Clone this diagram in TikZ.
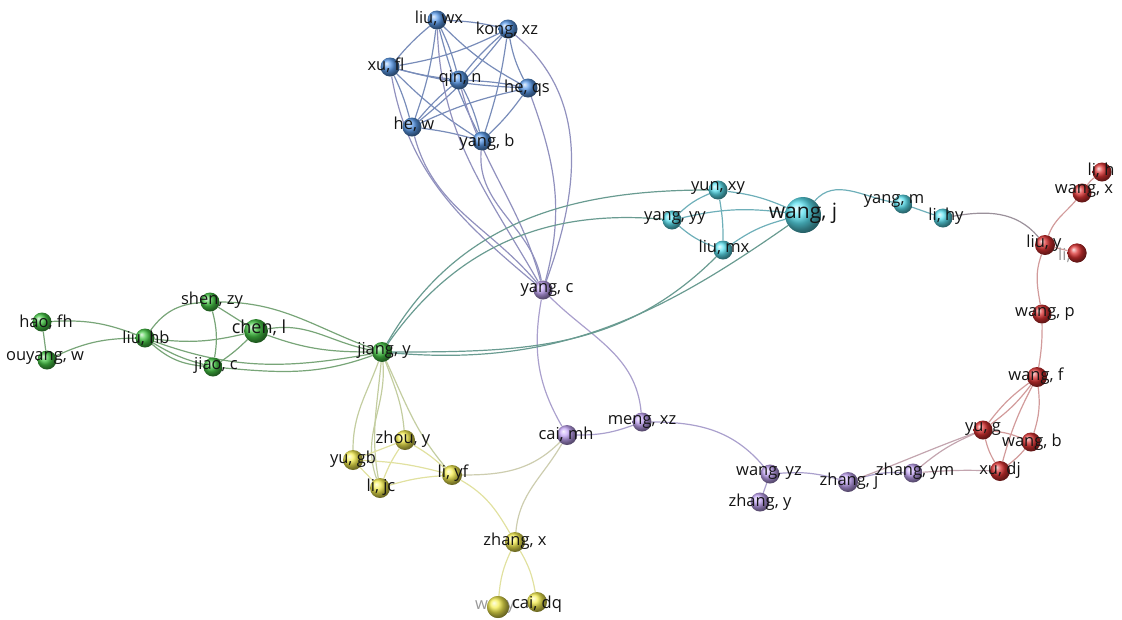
\documentclass[tikz,border=0pt]{standalone}
\usepackage{fontspec}
\setmainfont{Open Sans}
\pgfdeclarelayer{background}
\pgfsetlayers{background,main}
\definecolor{cB}{RGB}{90,155,235}
\definecolor{cC}{RGB}{90,225,240}
\definecolor{cG}{RGB}{70,200,70}
\definecolor{cY}{RGB}{245,238,80}
\definecolor{cP}{RGB}{195,165,245}
\definecolor{cR}{RGB}{220,50,50}
\definecolor{eB}{RGB}{120,140,185}
\definecolor{eBP}{RGB}{145,145,190}
\definecolor{eP}{RGB}{170,160,205}
\definecolor{eG}{RGB}{120,165,120}
\definecolor{eGC}{RGB}{105,155,145}
\definecolor{eGY}{RGB}{195,205,160}
\definecolor{eY}{RGB}{225,225,160}
\definecolor{eYP}{RGB}{205,205,175}
\definecolor{eC}{RGB}{110,175,185}
\definecolor{eR}{RGB}{210,155,155}
\definecolor{eCR}{RGB}{155,145,155}
\definecolor{ePR}{RGB}{195,165,175}
\definecolor{txt}{RGB}{20,20,20}
\begin{document}
\begin{tikzpicture}[x=1pt,y=-1pt,
  ball/.style={circle, inner sep=0pt, minimum size=19pt, shade, shading=ball, ball color=#1},
  lab/.style={inner sep=0pt, text=txt, font=\fontsize{16.5}{17}\selectfont},
  faint/.style={inner sep=0pt, text=black!40, font=\fontsize{16.5}{17}\selectfont},
  ed/.style={draw=#1, line width=1.2pt}]
\useasboundingbox (0,0) rectangle (1122,619);

% ---------- spheres ----------
% blue
\node[ball=cB] (lwx) at (437,20) {};
\node[ball=cB] (kxz) at (508,29) {};
\node[ball=cB] (xfl) at (390,67) {};
\node[ball=cB] (qn) at (459,80) {};
\node[ball=cB] (hqs) at (528,88) {};
\node[ball=cB] (hw) at (412,127) {};
\node[ball=cB] (yb) at (482,141) {};
% cyan
\node[ball=cC] (yxy) at (718,190) {};
\node[ball=cC] (yyy) at (672,220) {};
\node[ball=cC, minimum size=36pt] (wj) at (803,215) {};
\node[ball=cC] (lmx) at (723,250) {};
\node[ball=cC] (ym) at (903,204) {};
\node[ball=cC] (lhy) at (943,218) {};
% red
\node[ball=cR] (lh) at (1102,172) {};
\node[ball=cR] (wx) at (1082,193) {};
\node[ball=cR, minimum size=20pt] (ly) at (1045,245) {};
\node[ball=cR] (lhb) at (1077,253) {};
\node[ball=cR] (wp) at (1042,314) {};
\node[ball=cR, minimum size=20pt] (wf) at (1037,377) {};
\node[ball=cR] (yg) at (983,430) {};
\node[ball=cR] (wb) at (1031,442) {};
\node[ball=cR, minimum size=20pt] (xdj) at (1000,471) {};
% purple
\node[ball=cP] (yc) at (543,290) {};
\node[ball=cP] (mxz) at (642,422) {};
\node[ball=cP, minimum size=20pt] (cmh) at (567,435) {};
\node[ball=cP] (wyz) at (770,474) {};
\node[ball=cP] (zy) at (760,502) {};
\node[ball=cP, minimum size=20pt] (zj) at (848,482) {};
\node[ball=cP] (zym) at (913,473) {};
% green
\node[ball=cG] (hfh) at (42,322) {};
\node[ball=cG] (ouy) at (47,360) {};
\node[ball=cG] (lhbg) at (145,338) {};
\node[ball=cG] (szy) at (210,302) {};
\node[ball=cG, minimum size=24pt] (chl) at (256,331) {};
\node[ball=cG] (jc) at (213,367) {};
\node[ball=cG, minimum size=20pt] (jy) at (382,352) {};
% yellow
\node[ball=cY, minimum size=20pt] (zhy) at (405,440) {};
\node[ball=cY, minimum size=20pt] (ygb) at (353,460) {};
\node[ball=cY, minimum size=20pt] (ljc) at (380,488) {};
\node[ball=cY, minimum size=20pt] (lyf) at (452,475) {};
\node[ball=cY, minimum size=20pt] (zx) at (515,542) {};
\node[ball=cY, minimum size=22pt] (wu) at (498,607) {};
\node[ball=cY, minimum size=20pt] (cdq) at (537,602) {};

% ---------- edges ----------
\begin{pgfonlayer}{background}
% blue cluster
\foreach \a/\b/\bd in {lwx/kxz/5, lwx/xfl/-5, lwx/qn/5, lwx/hqs/-8, lwx/hw/6, lwx/yb/-6,
  kxz/xfl/8, kxz/qn/-5, kxz/hqs/-8, kxz/hw/6, kxz/yb/5,
  xfl/qn/-4, xfl/hqs/-6, xfl/hw/5, xfl/yb/-6,
  qn/hqs/4, qn/hw/-5, qn/yb/6, hqs/hw/-6, hqs/yb/5, hw/yb/4}
  \draw[ed=eB] (\a) to[bend left=\bd] (\b);
% blue -> yang, c
\draw[ed=eBP] (xfl) to[out=-80,in=140] (yc);
\draw[ed=eBP] (hw) to[out=-75,in=130] (yc);
\draw[ed=eBP] (lwx) to[out=-88,in=120] (yc);
\draw[ed=eBP] (qn) to[out=-75,in=105] (yc);
\draw[ed=eBP] (yb) to[out=-95,in=100] (yc);
\draw[ed=eBP] (hqs) to[out=-70,in=75] (yc);
\draw[ed=eBP] (kxz) to[out=-40,in=70] (yc);
% purple
\draw[ed=eP] (yc) to[out=-100,in=120] (cmh);
\draw[ed=eP] (yc) to[out=-45,in=95] (mxz);
\draw[ed=eP] (cmh) to[bend right=10] (mxz);
\draw[ed=eP] (mxz) to[out=0,in=130] (wyz);
\draw[ed=eP] (wyz) -- (zy);
\draw[ed=eP] (wyz) to[bend left=10] (zj);
\draw[ed=eP] (zj) to[bend left=10] (zym);
\draw[ed=ePR] (zym) to[bend left=3] (xdj);
\draw[ed=ePR] (zj) to[out=20,in=200] (yg);
\draw[ed=ePR] (zym) to[bend left=8] (yg);
% cyan
\draw[ed=eC] (yxy) to[bend right=10] (yyy);
\draw[ed=eC] (yxy) to[bend left=5] (lmx);
\draw[ed=eC] (yxy) to[bend left=8] (wj);
\draw[ed=eC] (yyy) to[bend right=10] (lmx);
\draw[ed=eC] (yyy) to[bend left=10] (wj);
\draw[ed=eC] (lmx) to[bend left=10] (wj);
\draw[ed=eC] (wj) to[out=50,in=170] (ym);
\draw[ed=eC] (ym) -- (lhy);
\draw[ed=eCR] (lhy) to[out=10,in=130] (ly);
% red
\draw[ed=eR] (lh) to[bend right=10] (wx);
\draw[ed=eR] (wx) to[out=230,in=70] (ly);
\draw[ed=eR] (ly) -- (lhb);
\draw[ed=eR] (ly) to[out=250,in=100] (wp);
\draw[ed=eR] (wp) to[bend left=5] (wf);
\draw[ed=eR] (wf) to[bend right=8] (yg);
\draw[ed=eR] (wf) to[bend left=8] (yg);
\draw[ed=eR] (wf) to[bend left=12] (wb);
\draw[ed=eR] (wf) to[bend right=6] (xdj);
\draw[ed=eR] (yg) to[bend left=8] (wb);
\draw[ed=eR] (yg) to[bend right=8] (xdj);
\draw[ed=eR] (wb) to[bend left=6] (xdj);
% green
\draw[ed=eG] (hfh) -- (ouy);
\draw[ed=eG] (hfh) to[bend left=12] (lhbg);
\draw[ed=eG] (ouy) to[bend left=12] (lhbg);
\draw[ed=eG] (lhbg) to[bend left=25] (szy);
\draw[ed=eG] (lhbg) to[bend right=8] (jc);
\draw[ed=eG] (lhbg) to[bend right=18] (jc);
\draw[ed=eG] (lhbg) to[bend right=10] (chl);
\draw[ed=eG] (szy) -- (chl);
\draw[ed=eG] (szy) to[bend left=12] (jc);
\draw[ed=eG] (chl) to[bend left=5] (jc);
\draw[ed=eG] (szy) to[out=0,in=160] (jy);
\draw[ed=eG] (chl) to[out=10,in=170] (jy);
\draw[ed=eG] (chl) to[out=-20,in=180] (jy);
\draw[ed=eG] (jc) to[out=-5,in=200] (jy);
\draw[ed=eG] (lhbg) to[out=-20,in=190] (jy);
% green -> cyan
\draw[ed=eGC] (jy) to[out=60,in=180] (yxy);
\draw[ed=eGC] (jy) to[out=55,in=175] (yyy);
\draw[ed=eGC] (jy) to[out=0,in=225] (lmx);
\draw[ed=eGC] (jy) to[out=-5,in=215] (wj);
% green -> yellow
\draw[ed=eGY] (jy) to[out=-110,in=90] (ygb);
\draw[ed=eGY] (jy) to[out=-95,in=100] (ljc);
\draw[ed=eGY] (jy) to[out=-85,in=110] (ljc);
\draw[ed=eGY] (jy) to[out=-70,in=95] (zhy);
\draw[ed=eGY] (jy) to[out=-65,in=130] (lyf);
% yellow
\draw[ed=eY] (zhy) -- (ygb);
\draw[ed=eY] (zhy) to[bend right=6] (ljc);
\draw[ed=eY] (zhy) to[bend left=6] (lyf);
\draw[ed=eY] (ygb) -- (ljc);
\draw[ed=eY] (ygb) to[bend left=6] (lyf);
\draw[ed=eY] (ljc) to[bend left=6] (lyf);
\draw[ed=eYP] (lyf) to[out=0,in=225] (cmh);
\draw[ed=eY] (lyf) to[out=-30,in=120] (zx);
\draw[ed=eYP] (cmh) to[out=240,in=85] (zx);
\draw[ed=eY] (zx) to[bend left=10] (cdq);
\draw[ed=eY] (zx) to[bend right=10] (wu);
\end{pgfonlayer}

% ---------- labels ----------
\node[lab] (lwx-l) at (439,18) {liu, wx};
\node[lab] (kxz-l) at (507,30) {kong, xz};
\node[lab] (xfl-l) at (386,65) {xu, fl};
\node[lab] (qn-l) at (460,78) {qin, n};
\node[lab] (hqs-l) at (527,88) {he, qs};
\node[lab] (hw-l) at (414,124) {he, w};
\node[lab] (yb-l) at (487,142) {yang, b};
\node[lab] (yxy-l) at (718,188) {yun, xy};
\node[lab] (yyy-l) at (675,218) {yang, yy};
\node[lab, font=\fontsize{21}{21}\selectfont] (wj-l) at (803,213) {wang, j};
\node[lab] (lmx-l) at (724,247) {liu, mx};
\node[lab] (ym-l) at (894,201) {yang, m};
\node[lab] (lhy-l) at (946,216) {li, hy};
\node[lab] (lh-l) at (1101,170) {li, h};
\node[lab] (wx-l) at (1084,191) {wang, x};
\node[lab] (ly-l) at (1044,243) {liu, y};
\node[faint, anchor=west] (lhb-l) at (1058,255) {li, h};
\node[ball=cR] at (lhb) {};
\node[lab] (wp-l) at (1045,314) {wang, p};
\node[lab] (wf-l) at (1036,376) {wang, f};
\node[lab] (yg-l) at (983,429) {yu, g};
\node[lab] (wb-l) at (1032,442) {wang, b};
\node[lab] (xdj-l) at (1000,470) {xu, dj};
\node[lab] (yc-l) at (547,290) {yang, c};
\node[lab] (mxz-l) at (642,422) {meng, xz};
\node[lab] (cmh-l) at (566,434) {cai, mh};
\node[lab] (wyz-l) at (769,473) {wang, yz};
\node[lab] (zy-l) at (760,502) {zhang, y};
\node[lab] (zj-l) at (849,481) {zhang, j};
\node[lab] (zym-l) at (915,471) {zhang, ym};
\node[lab] (hfh-l) at (46,322) {hao, fh};
\node[lab] (ouy-l) at (45,358) {ouyang, w};
\node[lab] (lhbg-l) at (146,338) {liu, hb};
\node[lab] (szy-l) at (212,300) {shen, zy};
\node[lab, font=\fontsize{18}{18}\selectfont] (chl-l) at (259,328) {chen, l};
\node[lab] (jc-l) at (216,365) {jiao, c};
\node[lab] (jy-l) at (384,350) {jiang, y};
\node[lab] (zhy-l) at (403,439) {zhou, y};
\node[lab] (ygb-l) at (353,459) {yu, gb};
\node[lab] (ljc-l) at (381,487) {li, jc};
\node[lab] (lyf-l) at (453,473) {li, yf};
\node[lab] (zx-l) at (515,541) {zhang, x};
\node[faint] (wu-l) at (495,607) {wu, y};
\node[ball=cY, minimum size=22pt] at (wu) {};
\node[lab] (cdq-l) at (537,604) {cai, dq};
\end{tikzpicture}
\end{document}
